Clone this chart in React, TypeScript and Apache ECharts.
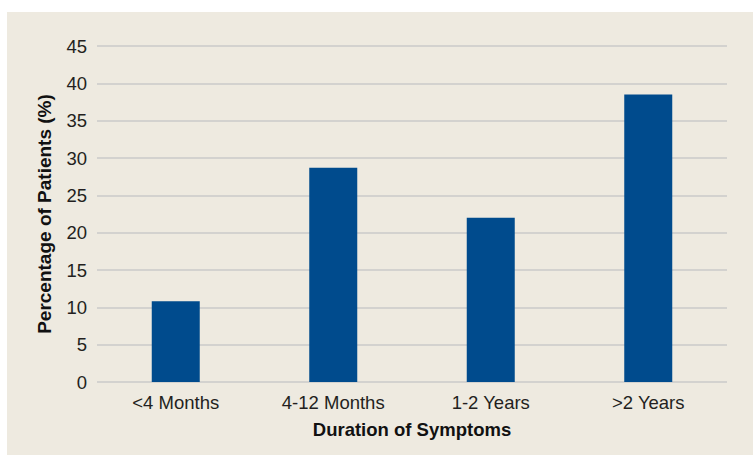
import React, { useEffect, useRef } from "react";
import * as echarts from "echarts";

const categories = ["<4 Months", "4-12 Months", "1-2 Years", ">2 Years"];
const percentages = [10.8, 28.7, 22.0, 38.5];
const yTicks = { min: 0, max: 45, interval: 5 };
const xTitle = "Duration of Symptoms";
const yTitle = "Percentage of Patients (%)";

export default function App() {
  const ref = useRef<HTMLDivElement>(null);
  useEffect(() => {
    if (!ref.current) return;
    const chart = echarts.init(ref.current, null, { renderer: "svg" });
    const font = "'Liberation Sans', Arial, Helvetica, sans-serif";
    chart.setOption({
      animation: false,
      backgroundColor: "#ffffff",
      graphic: [
        {
          type: "rect",
          shape: { x: 7, y: 12, width: 746, height: 443 },
          style: { fill: "#EEEAE0" },
          z: -10,
          silent: true,
        },
      ],
      grid: { left: 97, right: 26, top: 46, bottom: 73, containLabel: false },
      xAxis: {
        type: "category",
        data: categories,
        axisLine: { show: false },
        axisTick: { show: false },
        axisLabel: { color: "#231F20", fontSize: 18.5, fontFamily: font, margin: 11 },
        name: xTitle,
        nameLocation: "middle",
        nameGap: 38,
        nameTextStyle: { color: "#111111", fontSize: 18.5, fontWeight: "bold", fontFamily: font },
      },
      yAxis: {
        type: "value",
        min: yTicks.min,
        max: yTicks.max,
        interval: yTicks.interval,
        axisLine: { show: false },
        axisTick: { show: false },
        axisLabel: { color: "#231F20", fontSize: 18.5, fontFamily: font, margin: 10 },
        splitLine: { lineStyle: { color: "#CACACA", width: 1.5 } },
        name: yTitle,
        nameLocation: "middle",
        nameGap: 43,
        nameRotate: 90,
        nameTextStyle: { color: "#111111", fontSize: 19, fontWeight: "bold", fontFamily: font },
      },
      series: [
        {
          type: "bar",
          data: percentages,
          barWidth: 48,
          itemStyle: { color: "#004B8D" },
        },
      ],
    });
    return () => chart.dispose();
  }, []);
  return (
    <div
      ref={ref}
      style={{ position: "absolute", left: 0, top: 0, width: 753, height: 455 }}
    />
  );
}
